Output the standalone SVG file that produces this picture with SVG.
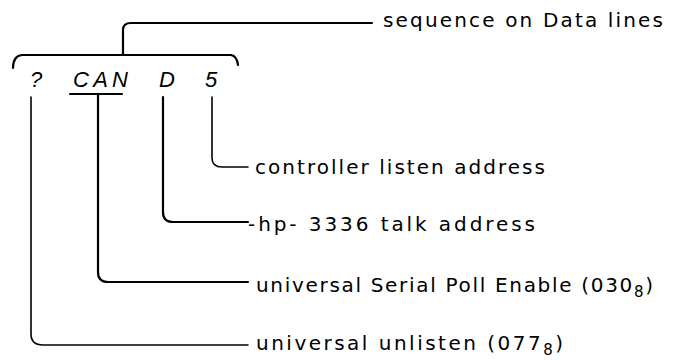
<svg xmlns="http://www.w3.org/2000/svg" width="673" height="360" viewBox="0 0 673 360">
<style>
.ln{fill:none;stroke:#000;stroke-width:2.2;stroke-linecap:round;stroke-linejoin:round}
.th{stroke-width:1.6}
.lab{font-family:"DejaVu Sans","Liberation Sans",Arial,sans-serif;font-size:20px;fill:#000}
.big{font-family:"Liberation Sans",Arial,sans-serif;font-size:22px;font-style:italic;fill:#000}
.sub{font-size:15px}
</style>
<rect width="673" height="360" fill="#fff"/>
<g id="sequence">
<text class="big" x="30" y="87">?</text>
<text class="big" x="73" y="87" textLength="55" lengthAdjust="spacing">CAN</text>
<text class="big" x="159" y="87">D</text>
<text class="big" x="205" y="87">5</text>
<text class="lab" x="383" y="27" textLength="280" lengthAdjust="spacing">sequence on Data lines</text>
</g>
<g id="labels">
<text class="lab" x="255" y="174" textLength="290" lengthAdjust="spacing">controller listen address</text>
<text class="lab" x="248" y="231" textLength="287" lengthAdjust="spacing">-hp- 3336 talk address</text>
<text class="lab" x="256" y="292" textLength="397" lengthAdjust="spacing">universal Serial Poll Enable (030<tspan class="sub" dy="5">8</tspan><tspan dy="-5">)</tspan></text>
<text class="lab" x="256" y="350" textLength="307" lengthAdjust="spacing">universal unlisten (077<tspan class="sub" dy="5">8</tspan><tspan dy="-5">)</tspan></text>
</g>
<g id="connectors">
<path class="ln" d="M13,68 Q13,56 22,55 L231,55 Q237,56 238,65"/>
<path class="ln" d="M123,55 L123,30 Q123,23 131,23 L372,23"/>
<path class="ln" d="M70,94 L122,94"/>
<path class="ln" d="M98,94 L98,272 Q98,282 108,282 L248,282"/>
<path class="ln" d="M163,97 L163,212 Q163,222 173,222 L248,222"/>
<path class="ln th" d="M212,97 L212,158 Q212,167 222,167 L248,167"/>
<path class="ln th" d="M31,97 L31,334 Q31,345 43,345 L248,345"/>
</g>
</svg>
